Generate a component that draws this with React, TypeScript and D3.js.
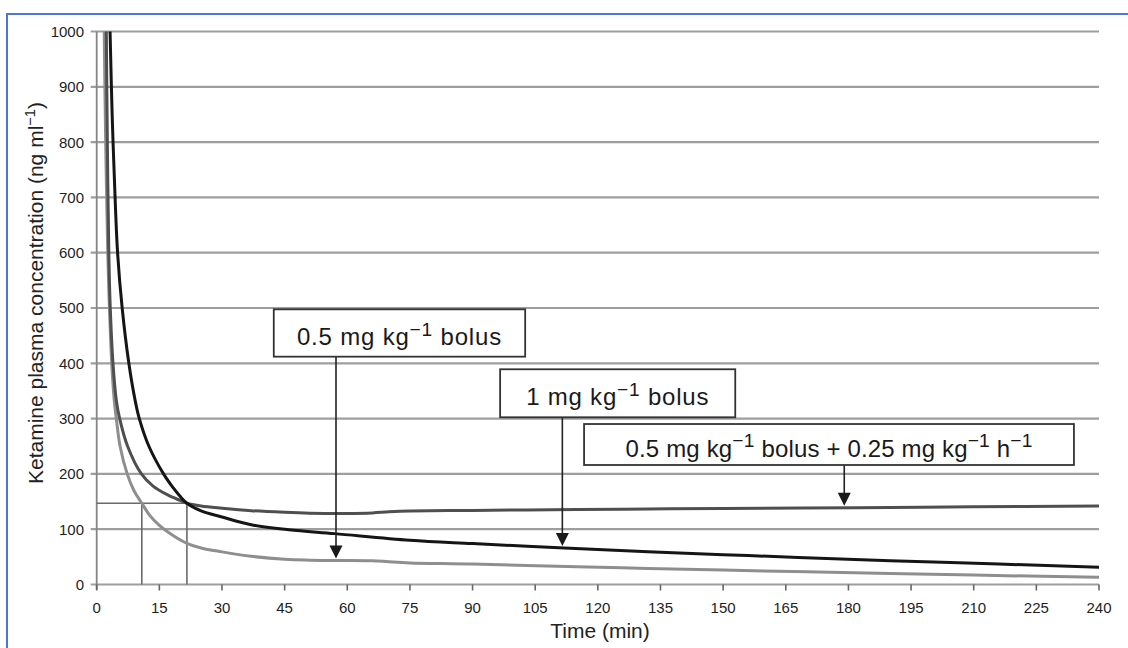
import React, { useEffect, useRef } from 'react';
import * as d3 from 'd3';

// Time (min) and ketamine plasma concentration (ng/ml)
const lowBolusTime = [1.8, 2.15, 2.65, 3.05, 3.6, 4.2, 4.7, 5.6, 7.3, 8.9, 10.8, 12.7, 15, 18, 21.6, 25, 30, 37, 45, 51, 57, 66, 70, 75, 90, 115, 132, 150, 170, 190, 210, 240];
const lowBolusConc = [1000, 800, 600, 500, 400, 333, 300, 250, 200, 170, 147, 125, 107, 90, 74.5, 66, 59, 51, 45.5, 44, 43.5, 43, 41, 39, 37, 32, 29, 26, 23, 20, 17, 13];

const infusionTime = [2.3, 2.55, 2.9, 3.25, 3.9, 4.7, 5.5, 7.4, 10.7, 13.5, 17, 20, 21.6, 25, 30, 37, 45, 51, 60, 66, 70, 75, 90, 115, 132, 150, 182, 210, 240];
const infusionConc = [1000, 800, 600, 500, 400, 333, 300, 250, 200, 178, 162, 152, 147, 142, 138, 133.5, 130.5, 129, 128.5, 129.5, 131.5, 133, 134, 135.5, 136.5, 137.5, 139, 140.5, 142];

const highBolusTime = [3.2, 3.7, 4.4, 5.0, 6.1, 7.7, 9.2, 10.2, 12.5, 16, 18.3, 19.9, 21.6, 25, 30, 37, 46, 57, 75, 90, 112, 132, 150, 168, 190, 216, 240];
const highBolusConc = [1000, 850, 700, 600, 500, 400, 333, 300, 250, 200, 175, 160, 147, 133, 122, 108, 99, 92, 80, 74, 66, 59, 54, 49, 43, 37, 31];

const xTicks = d3.range(0, 241, 15);
const yTicks = d3.range(0, 1001, 100);

// drop lines to the 147 ng/ml level
const refLevel = 147;
const refTimes = [10.8, 21.6];

type Part = { text: string; sup?: boolean };

// annotation boxes: label, box extent (time, conc), arrow time, series pointed at
const annotLabels: Part[][] = [
  [{ text: '0.5 mg kg' }, { text: '−1', sup: true }, { text: ' bolus' }],
  [{ text: '1 mg kg' }, { text: '−1', sup: true }, { text: ' bolus' }],
  [{ text: '0.5 mg kg' }, { text: '−1', sup: true }, { text: ' bolus + 0.25 mg kg' }, { text: '−1', sup: true }, { text: ' h' }, { text: '−1', sup: true }],
];
const annotBoxTime = [[42.4, 102.6], [96.6, 152.9], [116.7, 234.0]];
const annotBoxConc = [[497.6, 412], [389.2, 302.4], [290.2, 216.1]];
const annotTextWidth = [205, 183, 407];
const annotArrowTime = [57.3, 111.5, 179];
const annotSeries = [0, 2, 1];

const FONT = '"Liberation Sans", Arial, Helvetica, sans-serif';

const App = () => {
  const svgRef = useRef<SVGSVGElement>(null);

  useEffect(() => {
    const svg = d3.select(svgRef.current);
    svg.selectAll('*').remove();

    const width = 1128;
    const height = 648;

    const x = d3.scaleLinear().domain([0, 240]).range([96.7, 1099]);
    const y = d3.scaleLinear().domain([0, 1000]).range([584.5, 31.5]);

    // blue frame around the figure
    svg.append('rect')
      .attr('x', 7).attr('y', 14)
      .attr('width', width).attr('height', height)
      .attr('fill', 'none')
      .attr('stroke', '#4a78d0')
      .attr('stroke-width', 2);

    // horizontal gridlines with small ticks left of the axis
    svg.append('g')
      .selectAll('line')
      .data(yTicks)
      .join('line')
      .attr('x1', x(0) - 6)
      .attr('x2', x(240))
      .attr('y1', d => y(d))
      .attr('y2', d => y(d))
      .attr('stroke', '#9e9e9e')
      .attr('stroke-width', 2.2);

    // y axis line
    svg.append('line')
      .attr('x1', x(0)).attr('x2', x(0))
      .attr('y1', y(1000)).attr('y2', y(0) + 5)
      .attr('stroke', '#858585')
      .attr('stroke-width', 1.8);

    // x tick marks
    svg.append('g')
      .selectAll('line')
      .data(xTicks)
      .join('line')
      .attr('x1', d => x(d)).attr('x2', d => x(d))
      .attr('y1', y(0)).attr('y2', y(0) + 6)
      .attr('stroke', '#666')
      .attr('stroke-width', 1.6);

    // tick labels
    svg.append('g')
      .selectAll('text')
      .data(yTicks)
      .join('text')
      .attr('x', 84)
      .attr('y', d => y(d))
      .attr('dy', '0.36em')
      .attr('text-anchor', 'end')
      .attr('font-family', FONT)
      .attr('font-size', 15)
      .attr('fill', '#1e1e1e')
      .text(d => d);

    svg.append('g')
      .selectAll('text')
      .data(xTicks)
      .join('text')
      .attr('x', d => x(d))
      .attr('y', 613)
      .attr('text-anchor', 'middle')
      .attr('font-family', FONT)
      .attr('font-size', 15)
      .attr('fill', '#1e1e1e')
      .text(d => d);

    // rich text helper for superscripts
    const addRich = (sel: any, parts: Part[], size: number, supScale: number) => {
      let shifted = false;
      parts.forEach(p => {
        const ts = sel.append('tspan').text(p.text);
        if (p.sup) {
          ts.attr('font-size', size * supScale).attr('dy', -size * 0.38);
          shifted = true;
        } else if (shifted) {
          ts.attr('dy', size * 0.38);
          shifted = false;
        }
      });
    };

    // axis titles
    svg.append('text')
      .attr('x', 600)
      .attr('y', 638)
      .attr('text-anchor', 'middle')
      .attr('font-family', FONT)
      .attr('font-size', 21)
      .attr('fill', '#222')
      .text('Time (min)');

    const yTitle = svg.append('text')
      .attr('transform', 'translate(43,293) rotate(-90)')
      .attr('text-anchor', 'middle')
      .attr('font-family', FONT)
      .attr('font-size', 21)
      .attr('fill', '#222');
    addRich(yTitle, [{ text: 'Ketamine plasma concentration (ng ml' }, { text: '−1', sup: true }, { text: ')' }], 21, 0.7);

    // drop lines
    svg.append('line')
      .attr('x1', x(0)).attr('x2', x(refTimes[1]))
      .attr('y1', y(refLevel)).attr('y2', y(refLevel))
      .attr('stroke', '#6a6a6a')
      .attr('stroke-width', 1.6);

    svg.append('g')
      .selectAll('line')
      .data(refTimes)
      .join('line')
      .attr('x1', d => x(d)).attr('x2', d => x(d))
      .attr('y1', y(refLevel)).attr('y2', y(0))
      .attr('stroke', '#6a6a6a')
      .attr('stroke-width', 1.6);

    // concentration curves
    const series = [
      { t: lowBolusTime, c: lowBolusConc, color: '#8e8e8e' },
      { t: infusionTime, c: infusionConc, color: '#4f4f4f' },
      { t: highBolusTime, c: highBolusConc, color: '#151515' },
    ];

    const line = d3.line<[number, number]>()
      .x(d => x(d[0]))
      .y(d => y(d[1]))
      .curve(d3.curveCatmullRom.alpha(0.5));

    series.forEach(s => {
      svg.append('path')
        .datum(s.t.map((t, i) => [t, s.c[i]] as [number, number]))
        .attr('fill', 'none')
        .attr('stroke', s.color)
        .attr('stroke-width', 3)
        .attr('stroke-linejoin', 'round')
        .attr('d', line);
    });

    // annotation boxes and arrows
    annotLabels.forEach((parts, i) => {
      const [t0, t1] = annotBoxTime[i];
      const [cTop, cBot] = annotBoxConc[i];
      const bx = x(t0), bw = x(t1) - x(t0);
      const by = y(cTop), bh = y(cBot) - y(cTop);

      const s = series[annotSeries[i]];
      const at = annotArrowTime[i];
      const tipY = y(d3.scaleLinear().domain(s.t).range(s.c)(at)) - 2;
      const ax = x(at);

      svg.append('line')
        .attr('x1', ax).attr('x2', ax)
        .attr('y1', by + bh).attr('y2', tipY - 10)
        .attr('stroke', '#222')
        .attr('stroke-width', 1.6);

      svg.append('path')
        .attr('d', `M${ax - 6.5},${tipY - 13}L${ax + 6.5},${tipY - 13}L${ax},${tipY}Z`)
        .attr('fill', '#1a1a1a');

      svg.append('rect')
        .attr('x', bx).attr('y', by)
        .attr('width', bw).attr('height', bh)
        .attr('fill', 'white')
        .attr('stroke', '#333')
        .attr('stroke-width', 1.8);

      const txt = svg.append('text')
        .attr('x', bx + bw / 2)
        .attr('y', by + bh / 2 + 12)
        .attr('text-anchor', 'middle')
        .attr('font-family', FONT)
        .attr('font-size', 24)
        .attr('fill', '#1a1a1a');
      addRich(txt, parts, 24, 0.8);

      // spread letters so the label spans the same width as in the figure
      const node = txt.node() as SVGTextElement;
      const cur = node.getComputedTextLength();
      const n = parts.reduce((a, p) => a + p.text.length, 0);
      const spacing = (annotTextWidth[i] - cur) / n;
      txt.attr('letter-spacing', spacing);
    });
  }, []);

  return (
    <div>
      <style>{'body{margin:0;background:#fff}'}</style>
      <svg ref={svgRef} width={1128} height={648} style={{ display: 'block' }} />
    </div>
  );
};

export default App;
